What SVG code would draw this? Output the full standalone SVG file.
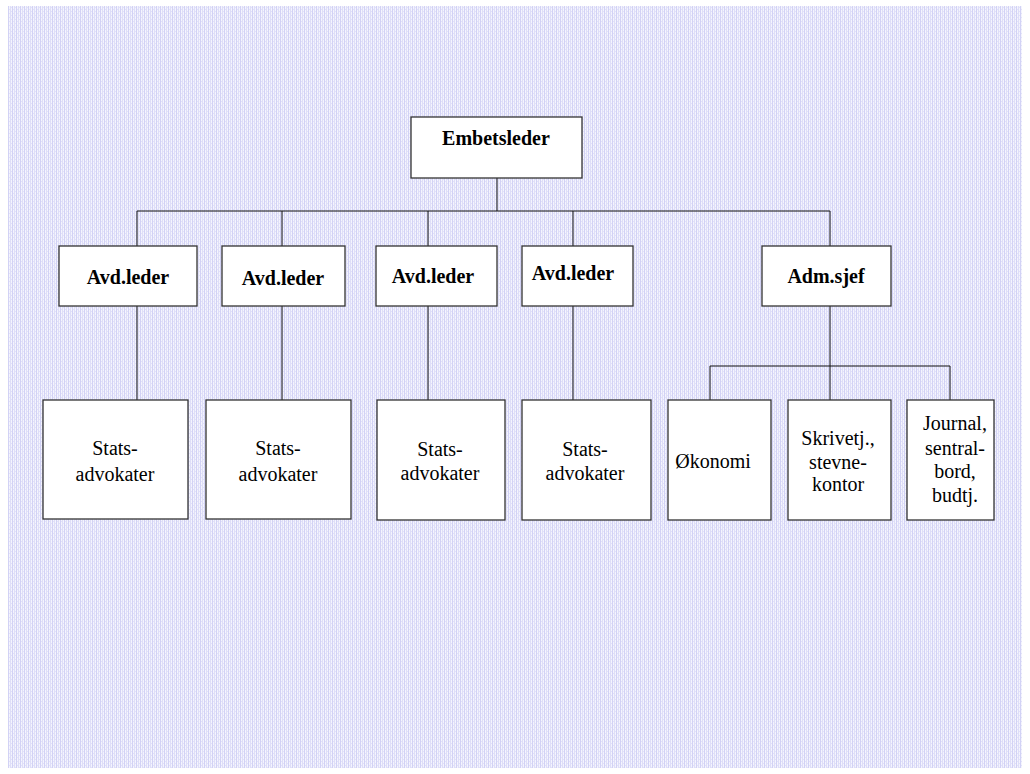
<svg xmlns="http://www.w3.org/2000/svg" width="1030" height="774" viewBox="0 0 1030 774">
<defs>
<pattern id="bg" x="0" y="0" width="4" height="4" patternUnits="userSpaceOnUse">
<rect width="4" height="4" fill="#f4f4fd"/>
<rect x="0" y="0" width="1" height="4" fill="#d2d2f5"/>
<rect x="2" y="0" width="1" height="4" fill="#dedef8"/>
<rect x="1" y="1" width="1" height="1" fill="#e2e2f9"/>
<rect x="3" y="3" width="1" height="1" fill="#e2e2f9"/>
</pattern>
<style>
.box{fill:#fff;stroke:#333;stroke-width:1.3}
.ln{stroke:#111;stroke-width:1;fill:none}
.b{font-family:"Liberation Serif","Times New Roman",serif;font-weight:bold;font-size:20px;fill:#000;text-anchor:middle}
.t{font-family:"Liberation Serif","Times New Roman",serif;font-size:20px;fill:#000;text-anchor:middle}
</style>
</defs>
<rect x="0" y="0" width="1030" height="774" fill="#fff"/>
<rect x="8" y="6" width="1014" height="762" fill="url(#bg)"/>
<g id="connectors" class="ln">
<path d="M497 178V211M137 211H830M137 211V246M282 211V246M428 211V246M573 211V246M830 211V246"/>
<path d="M137 306V400M282 306V400M428 306V400M573 306V400"/>
<path d="M830 306V400M710 366H950M710 366V400M950 366V400"/>
</g>
<g id="n-embetsleder"><rect class="box" x="411" y="117" width="171" height="61"/><text class="b" x="496" y="145">Embetsleder</text></g>
<g id="n-avd1"><rect class="box" x="59" y="246" width="138" height="60"/><text class="b" x="128" y="284">Avd.leder</text></g>
<g id="n-avd2"><rect class="box" x="222" y="246" width="123" height="60"/><text class="b" x="283" y="285">Avd.leder</text></g>
<g id="n-avd3"><rect class="box" x="376" y="246" width="121" height="60"/><text class="b" x="433" y="283">Avd.leder</text></g>
<g id="n-avd4"><rect class="box" x="522" y="246" width="111" height="60"/><text class="b" x="573" y="280">Avd.leder</text></g>
<g id="n-adm"><rect class="box" x="762" y="246" width="129" height="60"/><text class="b" x="826" y="283">Adm.sjef</text></g>
<g id="n-stats1"><rect class="box" x="43" y="400" width="145" height="119"/><text class="t" x="115" y="455">Stats-</text><text class="t" x="115" y="481">advokater</text></g>
<g id="n-stats2"><rect class="box" x="206" y="400" width="145" height="119"/><text class="t" x="278" y="455">Stats-</text><text class="t" x="278" y="481">advokater</text></g>
<g id="n-stats3"><rect class="box" x="377" y="400" width="128" height="120"/><text class="t" x="440" y="456">Stats-</text><text class="t" x="440" y="480">advokater</text></g>
<g id="n-stats4"><rect class="box" x="522" y="400" width="129" height="120"/><text class="t" x="585" y="456">Stats-</text><text class="t" x="585" y="480">advokater</text></g>
<g id="n-okonomi"><rect class="box" x="668" y="400" width="103" height="120"/><text class="t" x="713" y="468">Økonomi</text></g>
<g id="n-skrivetj"><rect class="box" x="788" y="400" width="103" height="120"/><text class="t" x="838" y="445">Skrivetj.,</text><text class="t" x="838" y="469">stevne-</text><text class="t" x="838" y="491">kontor</text></g>
<g id="n-journal"><rect class="box" x="907" y="400" width="87" height="120"/><text class="t" x="955" y="430">Journal,</text><text class="t" x="955" y="455">sentral-</text><text class="t" x="955" y="478">bord,</text><text class="t" x="955" y="502">budtj.</text></g>
</svg>
